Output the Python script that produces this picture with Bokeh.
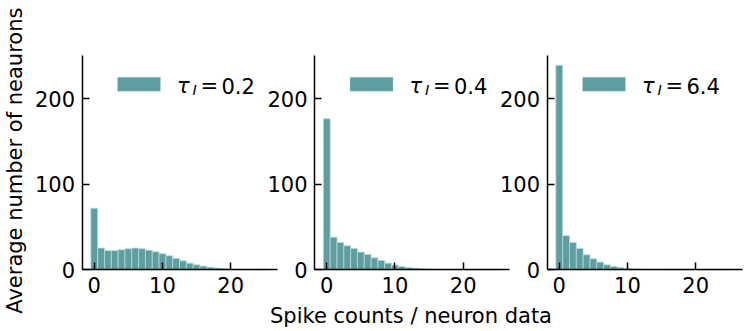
import math
from bokeh.plotting import figure
from bokeh.models import (Range1d, LinearAxis, FixedTicker, Label,
                          BoxAnnotation, ColumnDataSource)
from bokeh.embed import file_html
from bokeh.resources import INLINE

# ---------------- data ----------------
spike_counts = list(range(26))
tau_values = ["0.2", "0.4", "6.4"]
counts_tau_0_2 = [72, 25.5, 22.4, 22.4, 23.5, 24.6, 25.4, 24.6, 23.0, 21.0, 18.7,
                  16.4, 13.3, 10.5, 7.8, 5.8, 4.3, 3.1, 2.0, 1.2, 0.8, 0.4, 0.2,
                  0.1, 0.05, 0.02]
counts_tau_0_4 = [176.6, 38.2, 32.0, 28.0, 25.0, 20.7, 17.9, 14.0, 10.9, 7.8, 5.5,
                  3.9, 2.7, 1.9, 1.2, 0.8, 0.4, 0.2, 0.1, 0.05, 0, 0, 0, 0, 0, 0]
counts_tau_6_4 = [239, 39.8, 32.0, 25.0, 17.5, 12.9, 9.0, 5.8, 3.9, 2.7, 1.6, 0.8,
                  0.4, 0.2, 0.1, 0.05, 0, 0, 0, 0, 0, 0, 0, 0, 0, 0]
panel_counts = [counts_tau_0_2, counts_tau_0_4, counts_tau_6_4]
x_ticks = [0, 10, 20]
y_ticks = [0, 100, 200]
x_label = "Spike counts / neuron data"
y_label = "Average number of neaurons"

# ---------------- layout constants (canvas pixels) ----------------
W, H = 747, 331
PANEL_LEFTS = [81.5, 314.0, 546.5]
PANEL_W = 195.0
PANEL_TOP, PANEL_BOTTOM = 55.0, 269.3
X_START, X_END = -1.8, 26.8
Y_END = 250.6
PPU_X = PANEL_W / (X_END - X_START)
PPU_Y = (PANEL_BOTTOM - PANEL_TOP) / Y_END
TEXT_SHIFT = 6  # empirical correction of the label baseline

BAR_COLOR = "#5f9ea0"
EDGE_COLOR = "#b9d8d9"
FONT = "DejaVu Sans"
FS = "21px"
FS_SUB = "14.7px"
TXT = "black"

y_start = -(H - PANEL_BOTTOM) / PPU_Y
y_end = Y_END + PANEL_TOP / PPU_Y

p = figure(width=W, height=H, min_border=0,
           x_range=Range1d(0, W), y_range=Range1d(y_start, y_end),
           x_axis_type=None, y_axis_type=None,
           output_backend="svg", toolbar_location=None)
p.outline_line_color = None
p.background_fill_color = "white"
p.border_fill_color = "white"


def style_axis(ax):
    ax.axis_line_width = 1.5
    ax.axis_line_color = "black"
    ax.major_tick_in = 7
    ax.major_tick_out = 0
    ax.major_tick_line_width = 1.5
    ax.major_tick_line_color = "black"
    ax.minor_tick_line_color = None
    ax.major_label_text_font = FONT
    ax.major_label_text_font_size = FS
    ax.major_label_text_color = TXT
    ax.major_label_standoff = 7


def sy(page_y):
    """canvas y (from top) -> screen units of the frame (from bottom)"""
    return H - page_y + TEXT_SHIFT


for k, (counts, tau) in enumerate(zip(panel_counts, tau_values)):
    name = f"panel{k}"
    L = PANEL_LEFTS[k]
    start = X_START - L / PPU_X
    p.extra_x_ranges[name] = Range1d(start, start + W / PPU_X)

    src = ColumnDataSource(dict(
        left=[c - 0.5 for c in spike_counts],
        right=[c + 0.5 for c in spike_counts],
        top=counts,
    ))
    p.quad(left="left", right="right", bottom=0, top="top", source=src,
           x_range_name=name, fill_color=BAR_COLOR, fill_alpha=1,
           line_color=EDGE_COLOR, line_width=0.8)

    xaxis = LinearAxis(x_range_name=name, fixed_location=0,
                       bounds=(X_START, X_END), ticker=FixedTicker(ticks=x_ticks))
    style_axis(xaxis)
    p.add_layout(xaxis, "below")

    yaxis = LinearAxis(x_range_name=name, fixed_location=X_START,
                       bounds=(0, Y_END), ticker=FixedTicker(ticks=y_ticks))
    style_axis(yaxis)
    p.add_layout(yaxis, "left")

    # legend: patch + mathtext-like label  tau_I = value
    p.add_layout(BoxAnnotation(left=L + 35.5, right=L + 78.5,
                               top=H - (PANEL_TOP + 21.7), bottom=H - (PANEL_TOP + 35.7),
                               left_units="screen", right_units="screen",
                               top_units="screen", bottom_units="screen",
                               fill_color=BAR_COLOR, fill_alpha=1,
                               line_color=EDGE_COLOR, line_width=1))
    base = PANEL_TOP + 36.7
    p.add_layout(Label(x=L + 95, y=sy(base), x_units="screen", y_units="screen",
                       text="τ", text_font=FONT, text_font_style="italic",
                       text_font_size=FS, text_color=TXT, text_baseline="alphabetic"))
    p.add_layout(Label(x=L + 110.5, y=sy(base + 3.3), x_units="screen", y_units="screen",
                       text="I", text_font=FONT, text_font_style="italic",
                       text_font_size=FS_SUB, text_color=TXT, text_baseline="alphabetic"))
    p.add_layout(Label(x=L + 118.5, y=sy(base), x_units="screen", y_units="screen",
                       text="=", text_font=FONT, text_color=TXT,
                       text_font_size=FS, text_baseline="alphabetic"))
    p.add_layout(Label(x=L + 139.5, y=sy(base), x_units="screen", y_units="screen",
                       text=tau, text_font=FONT, text_color=TXT,
                       text_font_size=FS, text_baseline="alphabetic"))

# shared axis labels
p.add_layout(Label(x=(PANEL_LEFTS[0] + PANEL_LEFTS[2] + PANEL_W) / 2 - 1, y=sy(321),
                   x_units="screen", y_units="screen", text=x_label,
                   text_font=FONT, text_font_size=FS, text_color=TXT,
                   text_align="center", text_baseline="alphabetic"))
p.add_layout(Label(x=20 - TEXT_SHIFT, y=H - ((PANEL_TOP + PANEL_BOTTOM) / 2 - 2),
                   x_units="screen", y_units="screen", text=y_label,
                   angle=math.pi / 2, text_font=FONT, text_font_size=FS,
                   text_color=TXT, text_align="center", text_baseline="alphabetic"))

open("out.html", "w").write(file_html(p, INLINE))
